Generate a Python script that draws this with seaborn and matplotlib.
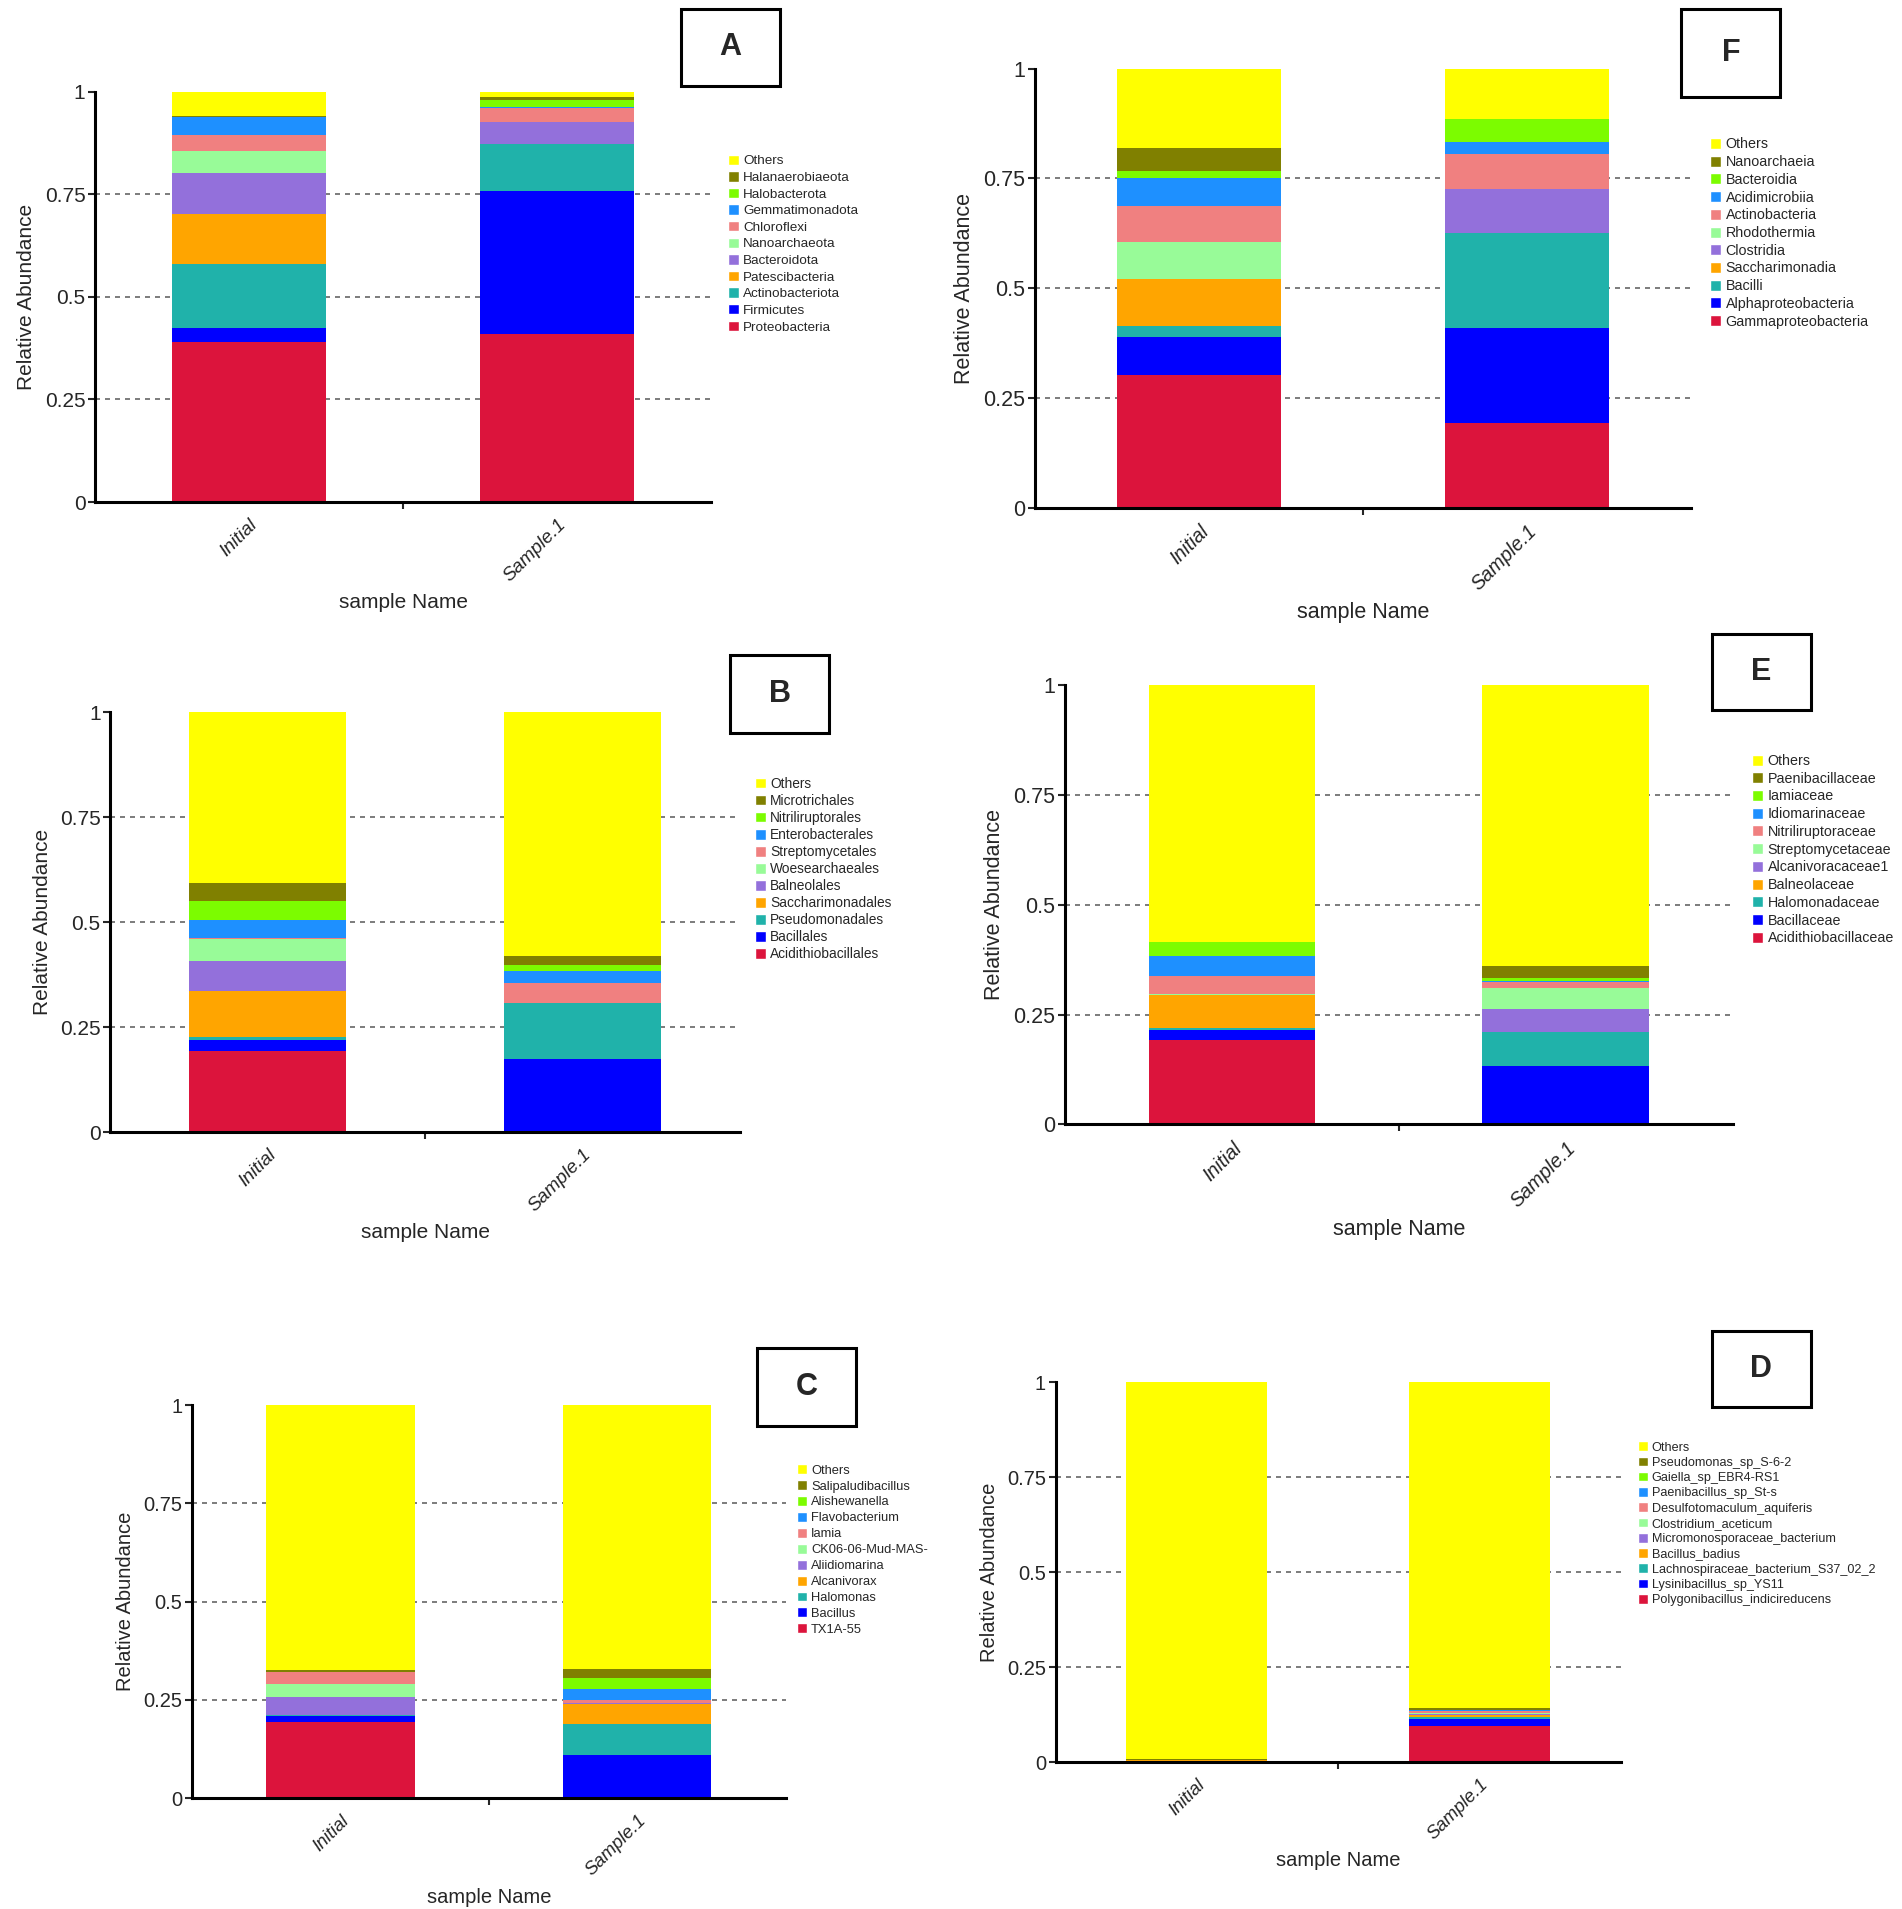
import numpy as np
import pandas as pd
import matplotlib
matplotlib.use('Agg')
import matplotlib.pyplot as plt
from matplotlib.patches import Patch, Rectangle
import seaborn as sns

sns.set_theme(style='white')
plt.rcParams['font.family'] = ['Liberation Sans', 'DejaVu Sans']

samples = ['Initial', 'Sample.1']
# stack colours, bottom layer first, "Others" last
palette = ['#DC143C', '#0000FF', '#20B2AA', '#FFA500', '#9370DB', '#98FB98',
           '#F08080', '#1E90FF', '#7CFC00', '#808000', '#FFFF00']

# A - phylum
a_taxa = ['Proteobacteria', 'Firmicutes', 'Actinobacteriota', 'Patescibacteria', 'Bacteroidota',
          'Nanoarchaeota', 'Chloroflexi', 'Gemmatimonadota', 'Halobacterota', 'Halanaerobiaeota', 'Others']
a_initial = [0.389, 0.034, 0.156, 0.123, 0.099, 0.054, 0.040, 0.043, 0.001, 0.001, 0.060]
a_sample1 = [0.409, 0.348, 0.116, 0.000, 0.053, 0.001, 0.033, 0.003, 0.016, 0.007, 0.014]

# F - class
f_taxa = ['Gammaproteobacteria', 'Alphaproteobacteria', 'Bacilli', 'Saccharimonadia', 'Clostridia',
          'Rhodothermia', 'Actinobacteria', 'Acidimicrobiia', 'Bacteroidia', 'Nanoarchaeia', 'Others']
f_initial = [0.302, 0.088, 0.025, 0.106, 0.000, 0.085, 0.082, 0.064, 0.016, 0.052, 0.180]
f_sample1 = [0.194, 0.216, 0.216, 0.000, 0.101, 0.000, 0.079, 0.027, 0.053, 0.000, 0.114]

# B - order
b_taxa = ['Acidithiobacillales', 'Bacillales', 'Pseudomonadales', 'Saccharimonadales', 'Balneolales',
          'Woesearchaeales', 'Streptomycetales', 'Enterobacterales', 'Nitriliruptorales', 'Microtrichales', 'Others']
b_initial = [0.194, 0.024, 0.009, 0.108, 0.073, 0.052, 0.002, 0.044, 0.044, 0.042, 0.408]
b_sample1 = [0.000, 0.173, 0.135, 0.000, 0.000, 0.000, 0.047, 0.029, 0.013, 0.021, 0.582]

# E - family
e_taxa = ['Acidithiobacillaceae', 'Bacillaceae', 'Halomonadaceae', 'Balneolaceae', 'Alcanivoracaceae1',
          'Streptomycetaceae', 'Nitriliruptoraceae', 'Idiomarinaceae', 'Iamiaceae', 'Paenibacillaceae', 'Others']
e_initial = [0.193, 0.023, 0.004, 0.074, 0.001, 0.003, 0.041, 0.045, 0.031, 0.000, 0.585]
e_sample1 = [0.000, 0.132, 0.079, 0.000, 0.052, 0.047, 0.014, 0.002, 0.007, 0.027, 0.640]

# C - genus
c_taxa = ['TX1A-55', 'Bacillus', 'Halomonas', 'Alcanivorax', 'Aliidiomarina', 'CK06-06-Mud-MAS-',
          'Iamia', 'Flavobacterium', 'Alishewanella', 'Salipaludibacillus', 'Others']
c_initial = [0.194, 0.015, 0.003, 0.000, 0.046, 0.032, 0.030, 0.001, 0.001, 0.004, 0.674]
c_sample1 = [0.000, 0.110, 0.078, 0.053, 0.002, 0.000, 0.007, 0.028, 0.028, 0.024, 0.670]

# D - species
d_taxa = ['Polygonibacillus_indicireducens', 'Lysinibacillus_sp_YS11', 'Lachnospiraceae_bacterium_S37_02_2',
          'Bacillus_badius', 'Micromonosporaceae_bacterium', 'Clostridium_aceticum', 'Desulfotomaculum_aquiferis',
          'Paenibacillus_sp_St-s', 'Gaiella_sp_EBR4-RS1', 'Pseudomonas_sp_S-6-2', 'Others']
d_initial = [0.001, 0.001, 0.001, 0.001, 0.001, 0.001, 0.000, 0.000, 0.000, 0.001, 0.993]
d_sample1 = [0.094, 0.018, 0.006, 0.005, 0.003, 0.004, 0.003, 0.003, 0.002, 0.003, 0.859]

yticks = [0, 0.25, 0.5, 0.75, 1]
ytick_labels = ['0', '0.25', '0.5', '0.75', '1']

fig = plt.figure(figsize=(19.02, 19.09), dpi=100)


def draw_panel(rect, taxa, initial, sample1, letter, box, leg_xy, fs, leg_fs, leg_sp):
    ax = fig.add_axes(rect)
    n = len(taxa)
    df = pd.DataFrame({
        'taxon': taxa * 2,
        'sample': np.repeat(samples, n),
        'value': initial + sample1,
    })
    df['top'] = df.groupby('sample')['value'].cumsum()
    # draw the cumulative tops from the top layer down so each layer shows
    for i in range(n - 1, -1, -1):
        sub = df[df['taxon'] == taxa[i]]
        sns.barplot(data=sub, x='sample', y='top', order=samples, color=palette[i],
                    saturation=1, width=0.5, linewidth=0, errorbar=None, ax=ax)
    for y in [0.25, 0.5, 0.75]:
        ax.axhline(y, color='#666666', ls=(0, (3, 3)), lw=1.2, zorder=0.5)
    ax.set_xlim(-0.5, 1.5)
    ax.set_ylim(0, 1)
    sns.despine(ax=ax)
    for s in ['left', 'bottom']:
        ax.spines[s].set_linewidth(2.2)
        ax.spines[s].set_color('black')
    ax.set_yticks(yticks)
    ax.set_yticklabels(ytick_labels, fontsize=fs)
    ax.set_xticks([0, 1])
    ax.set_xticklabels(samples, fontsize=fs * 0.92, style='italic', rotation=45,
                       ha='right', rotation_mode='anchor')
    ax.set_xticks([0.5], minor=True)
    ax.tick_params(axis='x', which='major', length=0, pad=10)
    ax.tick_params(axis='x', which='minor', length=5, width=1.5, direction='out', bottom=True)
    ax.tick_params(axis='y', length=5, width=1.5, direction='out', left=True, pad=2)
    ax.set_ylabel('Relative Abundance', fontsize=fs, labelpad=6)
    ax.set_xlabel('sample Name', fontsize=fs, labelpad=6)

    handles = [Patch(facecolor=palette[i], label=taxa[i]) for i in range(n - 1, -1, -1)]
    fig.legend(handles=handles, loc='upper left', bbox_to_anchor=leg_xy, frameon=False,
               fontsize=leg_fs, handlelength=0.8, handleheight=0.8, handletextpad=0.3,
               labelspacing=leg_sp, borderpad=0, borderaxespad=0)

    fig.add_artist(Rectangle((box[0], box[1]), box[2], box[3], transform=fig.transFigure,
                             fill=False, lw=2.2, ec='black'))
    fig.text(box[0] + box[2] / 2, box[1] + box[3] / 2, letter, ha='center', va='center',
             fontsize=22, fontweight='bold')
    return ax


draw_panel([0.050, 0.737, 0.324, 0.215], a_taxa, a_initial, a_sample1, 'A',
           (0.358, 0.955, 0.052, 0.0405), (0.383, 0.919), 15, 9.7, 0.28)
draw_panel([0.544, 0.734, 0.345, 0.230], f_taxa, f_initial, f_sample1, 'F',
           (0.884, 0.949, 0.052, 0.0465), (0.899, 0.928), 15.5, 10.3, 0.26)
draw_panel([0.058, 0.407, 0.331, 0.220], b_taxa, b_initial, b_sample1, 'B',
           (0.384, 0.616, 0.052, 0.041), (0.397, 0.593), 15, 9.9, 0.22)
draw_panel([0.560, 0.411, 0.351, 0.230], e_taxa, e_initial, e_sample1, 'E',
           (0.900, 0.628, 0.052, 0.040), (0.921, 0.605), 15.5, 10.3, 0.26)
draw_panel([0.101, 0.058, 0.312, 0.206], c_taxa, c_initial, c_sample1, 'C',
           (0.398, 0.253, 0.052, 0.041), (0.419, 0.233), 14.5, 9.3, 0.27)
draw_panel([0.555, 0.077, 0.297, 0.199], d_taxa, d_initial, d_sample1, 'D',
           (0.900, 0.263, 0.052, 0.040), (0.861, 0.245), 14.5, 9.1, 0.24)

fig.savefig('out.png', dpi=100)
